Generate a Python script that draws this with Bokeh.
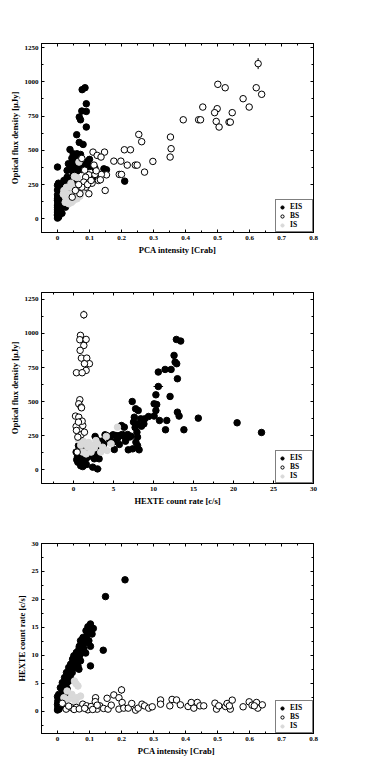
from bokeh.plotting import figure
from bokeh.layouts import column
from bokeh.models import Range1d, FixedTicker, LinearAxis, Legend, LegendItem
from bokeh.embed import file_html
from bokeh.resources import INLINE

# ---------------- Panel 1: PCA intensity vs optical flux ----------------
p1_eis_x = [0.0, 0.077, 0.086, 0.09, 0.076, 0.09, 0.068, 0.072, 0.09, 0.06, 0.068, 0.08,
            0.039, 0.049, 0.061, 0.072, 0.045, 0.053, 0.072, 0.034, 0.1, 0.1, 0.105, 0.114,
            0.117, 0.145, 0.153, 0.21,
            0.0, 0.0, 0.0, 0.0, 0.004, 0.009, 0.02, 0.03, 0.04, 0.05, 0.015, 0.025, 0.004,
            0.03, 0.046, 0.04, 0.056, 0.03, 0.02, 0.009, 0.025, 0.035, 0.002, 0.006, 0.012,
            0.001, 0.003, 0.008, 0.018, 0.01, 0.014,
            0.0, 0.0, 0.0, 0.0, 0.0, 0.0, 0.0, 0.0, 0.001, 0.002, 0.003, 0.005, 0.006,
            0.004, 0.007, 0.012, 0.016, 0.022, 0.027, 0.033, 0.038, 0.044, 0.05, 0.055,
            0.06, 0.065, 0.07, 0.075, 0.08, 0.085, 0.09, 0.095, 0.058, 0.064, 0.048,
            0.011, 0.017, 0.008, 0.013, 0.021, 0.03, 0.043, 0.052, 0.063, 0.074, 0.083]
p1_eis_y = [378, 943, 957, 840, 787, 784, 743, 723, 670, 614, 558, 543,
            506, 475, 475, 470, 443, 443, 414, 402, 434, 382, 304, 304,
            370, 365, 358, 275,
            24, 49, 85, 134, 183, 231, 231, 243, 251, 260, 158, 85, 110,
            353, 353, 390, 378, 304, 280, 207, 207, 255, 10, 60, 100,
            160, 200, 150, 120, 70, 40,
            5, 30, 65, 100, 145, 175, 210, 245, 120, 90, 260, 230, 45,
            15, 140, 250, 195, 265, 230, 270, 285, 300, 330, 320,
            345, 390, 380, 360, 405, 395, 385, 420, 430, 460, 415,
            180, 150, 110, 220, 270, 215, 290, 265, 410, 445, 410]
p1_bs_x = [0.627, 0.501, 0.524, 0.621, 0.638, 0.58, 0.454, 0.599, 0.499, 0.546, 0.491,
           0.393, 0.441, 0.447, 0.496, 0.505, 0.536, 0.54, 0.254, 0.263, 0.353, 0.355, 0.352,
           0.111, 0.147, 0.209, 0.228, 0.124, 0.136, 0.176, 0.198, 0.218, 0.243, 0.249,
           0.298, 0.272, 0.114, 0.153, 0.137, 0.128, 0.193, 0.2, 0.149, 0.098, 0.088,
           0.082, 0.089, 0.098, 0.076, 0.07, 0.117, 0.108, 0.076, 0.134, 0.046, 0.056,
           0.085, 0.094, 0.066, 0.105, 0.121]
p1_bs_y = [1133, 982, 957, 957, 909, 877, 816, 816, 804, 775, 775,
           723, 723, 723, 711, 670, 706, 706, 616, 563, 597, 512, 451,
           487, 487, 504, 504, 463, 451, 421, 421, 392, 392, 392,
           419, 341, 392, 321, 324, 280, 324, 324, 207, 321, 304,
           268, 231, 183, 231, 183, 324, 260, 441, 285, 158, 207,
           355, 250, 250, 280, 350]
p1_is_x = [0.067, 0.053, 0.02, 0.03, 0.04, 0.05, 0.061, 0.072, 0.056, 0.038, 0.025,
           0.067, 0.03, 0.046, 0.077, 0.018, 0.024, 0.035, 0.044, 0.058, 0.07, 0.062,
           0.028, 0.042, 0.052]
p1_is_y = [414, 309, 207, 183, 146, 134, 146, 183, 231, 231, 158,
           231, 134, 183, 212, 180, 120, 110, 120, 160, 165, 300,
           230, 260, 215]
# a few visible vertical error bars (x, y, half-length)
p1_err_x = [0.627, 0.501]
p1_err_y = [1133, 982]
p1_err_d = [40, 25]

# ---------------- Panel 2: HEXTE count rate vs optical flux ----------------
p2_eis_x = [12.86, 13.4, 12.57, 12.7, 12.9, 10.6, 11.45, 12.2, 12.99, 10.6, 10.3, 12.07,
            7.34, 7.76, 8.09, 10.08, 10.4, 10.3, 12.99, 13.2, 9.38, 10.08, 10.75, 11.66,
            15.6, 20.45, 23.5, 13.8, 11.5, 7.6, 7.5, 8.0, 8.4, 8.8, 8.9,
            6.76, 6.35, 6.0, 3.94, 4.94, 5.3, 5.77, 6.27, 7.18, 7.93, 8.0, 7.8, 8.0,
            7.4, 6.85, 8.2, 5.73, 5.1, 2.7, 1.87, 2.28, 3.0, 3.36,
            0.62, 0.95, 0.54, 1.16, 1.16, 2.4, 3.0, 1.78, 1.37, 0.33, 2.6, 3.0, 3.2,
            2.1, 1.7,
            0.5, 0.8, 1.2, 1.5, 2.0, 2.5, 0.7, 1.0, 1.4, 1.9, 2.3, 0.4, 0.9, 1.6,
            3.5, 4.5, 5.0, 5.5, 6.5, 7.0, 2.9, 3.8, 4.2, 6.1, 7.7, 8.5]
p2_eis_y = [956, 944, 839, 790, 778, 717, 736, 736, 668, 611, 550, 538,
            501, 448, 435, 484, 479, 435, 423, 394, 391, 394, 362, 362,
            379, 345, 274, 294, 294, 386, 350, 337, 374, 337, 374,
            259, 313, 325, 257, 257, 252, 252, 247, 247, 276, 240, 203, 178,
            154, 147, 147, 186, 149, 245, 178, 166, 191, 166,
            178, 93, 56, 56, 24, 20, 7, 93, 142, 130, 81, 122, 81,
            130, 191,
            100, 120, 110, 80, 105, 95, 150, 160, 60, 145, 135, 75, 30, 40,
            210, 225, 205, 230, 210, 240, 220, 190, 250, 260, 310, 320]
p2_bs_x = [1.29, 0.87, 0.79, 1.58, 1.29, 0.83, 0.99, 1.66, 1.99, 1.37, 1.58, 0.37, 1.08,
           0.79, 0.66, 0.95, 0.25, 0.66, 0.79, 1.16, 0.33, 0.37, 0.95, 1.37, 0.54, 0.46,
           1.0, 1.08, 0.62]
p2_bs_y = [1137, 986, 954, 956, 912, 876, 819, 819, 778, 778, 729, 712, 712,
           514, 484, 460, 394, 386, 350, 325, 318, 289, 257, 276, 240, 130,
           455, 357, 350]
p2_is_x = [5.5, 4.1, 4.7, 4.2, 3.65, 1.37, 1.78, 2.4, 1.16, 1.58, 2.8, 3.4, 0.62, 2.2,
           0.9, 1.9, 2.6, 3.0, 1.2]
p2_is_y = [313, 245, 191, 142, 166, 191, 166, 178, 130, 117, 215, 130, 220, 130,
           180, 200, 160, 190, 210]
# vertical error bars
p2_err_x = [1.29, 13.4]
p2_err_y = [1137, 944]
p2_err_d = [30, 20]
# horizontal error bars (x, y, half-length)
p2_herr_x = [10.6, 3.0, 1.78]
p2_herr_y = [611, 7, 20]
p2_herr_d = [0.6, 0.5, 0.6]

# ---------------- Panel 3: PCA intensity vs HEXTE count rate ----------------
p3_eis_x = [0.211, 0.15, 0.103, 0.095, 0.112, 0.108, 0.089, 0.08, 0.072, 0.076, 0.067,
            0.059, 0.051, 0.047, 0.041, 0.035, 0.028, 0.022, 0.015, 0.009, 0.004, 0.001,
            0.001, 0.005, 0.103, 0.143, 0.103, 0.093, 0.082, 0.061, 0.053, 0.067, 0.046,
            0.035, 0.03, 0.02, 0.009, 0.025, 0.064, 0.072, 0.088, 0.098, 0.0, 0.003, 0.012,
            0.0, 0.0, 0.002, 0.006, 0.01, 0.015, 0.02, 0.025, 0.03, 0.035, 0.04, 0.045,
            0.05, 0.055, 0.06, 0.065, 0.07, 0.075, 0.08, 0.085, 0.09, 0.097, 0.1, 0.106,
            0.018, 0.028, 0.038, 0.048, 0.058, 0.068, 0.078]
p3_eis_y = [23.5, 20.5, 15.6, 15.1, 14.8, 13.8, 14.4, 13.2, 12.6, 11.7, 11.1,
            10.5, 9.9, 9.3, 8.4, 7.8, 6.9, 6.0, 5.1, 4.2, 3.0, 1.8,
            0.66, 0.36, 11.6, 10.9, 8.1, 12.3, 11.1, 9.6, 8.7, 7.5, 6.9,
            6.0, 5.1, 3.9, 2.7, 3.0, 8.1, 9.0, 10.4, 12.6, 1.2, 2.2, 0.9,
            2.6, 0.2, 1.4, 2.0, 1.6, 3.3, 2.9, 4.4, 4.0, 5.4, 6.2, 7.4,
            7.7, 8.9, 9.1, 10.3, 10.0, 11.9, 11.5, 13.0, 13.3, 14.0, 15.2, 15.0,
            4.0, 5.8, 6.9, 8.6, 10.0, 11.6, 12.9]
p3_bs_x = [0.015, 0.027, 0.044, 0.059, 0.079, 0.091, 0.095, 0.105, 0.119, 0.118, 0.124,
           0.132, 0.144, 0.155, 0.158, 0.168, 0.176, 0.192, 0.2, 0.192, 0.202, 0.207,
           0.221, 0.232, 0.244, 0.252, 0.264, 0.272, 0.285, 0.296, 0.322, 0.322, 0.351,
           0.358, 0.372, 0.384, 0.408, 0.418, 0.426, 0.437, 0.445, 0.457, 0.492, 0.497,
           0.504, 0.525, 0.53, 0.54, 0.546, 0.537, 0.58, 0.599, 0.608, 0.622, 0.626,
           0.64, 0.615, 0.124, 0.035, 0.052, 0.068, 0.085, 0.11]
p3_bs_y = [1.4, 0.36, 0.6, 0.66, 1.25, 0.95, 0.24, 0.83, 2.4, 1.7, 0.36,
           0.95, 0.48, 2.3, 0.36, 1.07, 2.9, 2.4, 3.8, 0.36, 1.55, 0.54,
           0.54, 1.37, 0.18, 0.54, 1.25, 0.95, 0.54, 0.78, 2.0, 1.25, 0.95,
           2.1, 2.0, 1.13, 0.83, 1.55, 0.54, 1.55, 0.95, 0.95, 1.43, 0.36,
           0.95, 0.83, 1.37, 0.36, 1.97, 0.95, 0.78, 1.67, 1.07, 1.55, 0.54,
           1.13, 0.95, 1.07, 0.9, 0.3, 0.4, 0.5, 0.3]
p3_is_x = [0.053, 0.064, 0.03, 0.02, 0.041, 0.061, 0.056, 0.03, 0.072, 0.058, 0.045]
p3_is_y = [5.4, 4.5, 3.6, 2.4, 2.3, 2.4, 1.6, 2.1, 2.7, 4.9, 3.0]
p3_err_x = [0.2, 0.119, 0.176, 0.322, 0.358, 0.546]
p3_err_y = [3.8, 2.4, 2.9, 2.0, 2.1, 1.97]
p3_err_d = [0.7, 0.6, 0.6, 0.5, 0.5, 0.5]

pca_ticks = [0, 0.1, 0.2, 0.3, 0.4, 0.5, 0.6, 0.7, 0.8]
pca_labels = ["0", "0.1", "0.2", "0.3", "0.4", "0.5", "0.6", "0.7", "0.8"]
flux_ticks = [0, 250, 500, 750, 1000, 1250]
hexte_ticks = [0, 5, 10, 15, 20, 25, 30]

FONT = "Liberation Serif"


def make_panel(xr, yr, xmaj, xmin, ymaj, ymin, xlabel, ylabel, height, btop, bbot,
               xlabels=None):
    p = figure(width=386, height=height, output_backend="svg", toolbar_location=None,
               x_range=Range1d(*xr), y_range=Range1d(*yr),
               min_border_left=41, min_border_right=73, min_border_top=btop,
               min_border_bottom=bbot)
    p.grid.visible = False
    p.outline_line_color = "black"
    p.outline_line_width = 1
    p.background_fill_color = "white"
    p.border_fill_color = "white"
    for ax, ticks, minors, lab in ((p.xaxis[0], xmaj, xmin, xlabel),
                                   (p.yaxis[0], ymaj, ymin, ylabel)):
        ax.ticker = FixedTicker(ticks=ticks, minor_ticks=minors)
        ax.axis_label = lab
        ax.axis_label_text_font = FONT
        ax.axis_label_text_font_style = "bold"
        ax.axis_label_text_font_size = "8.5px"
        ax.axis_label_text_color = "black"
        ax.axis_label_standoff = 2
        ax.major_label_text_font = FONT
        ax.major_label_text_font_style = "bold"
        ax.major_label_text_font_size = "7px"
        ax.major_label_text_color = "black"
        ax.major_label_standoff = 3
        ax.major_tick_in = 3
        ax.major_tick_out = 0
        ax.minor_tick_in = 2
        ax.minor_tick_out = 0
        ax.axis_line_color = "black"
    if xlabels is not None:
        p.xaxis[0].major_label_overrides = {t: l for t, l in zip(xmaj, xlabels)}
    # mirrored ticks on top and right (no labels)
    for loc, ticks, minors in (("above", xmaj, xmin), ("right", ymaj, ymin)):
        ax = LinearAxis(ticker=FixedTicker(ticks=ticks, minor_ticks=minors))
        ax.major_label_text_color = None
        ax.major_label_text_font_size = "1px"
        ax.major_label_standoff = 0
        ax.major_tick_in = 3
        ax.major_tick_out = 0
        ax.minor_tick_in = 2
        ax.minor_tick_out = 0
        ax.axis_line_color = "black"
        p.add_layout(ax, loc)
    return p


def add_vbars(p, xs, ys, ds):
    p.segment(x0=xs, x1=xs, y0=[y - d for y, d in zip(ys, ds)],
              y1=[y + d for y, d in zip(ys, ds)], line_color="black", line_width=1)


def add_hbars(p, xs, ys, ds):
    p.segment(x0=[x - d for x, d in zip(xs, ds)], x1=[x + d for x, d in zip(xs, ds)],
              y0=ys, y1=ys, line_color="black", line_width=1)


def add_points(p, ex, ey, bx, by, ix, iy):
    r1 = p.scatter(ex, ey, size=6.5, marker="circle", fill_color="black", line_color="black")
    r3 = p.scatter(ix, iy, size=6.5, marker="circle", fill_color="#d9d9d9", line_color="#d9d9d9")
    r2 = p.scatter(bx, by, size=6.5, marker="circle", fill_color="white", line_color="black",
                   line_width=1)
    leg = Legend(items=[LegendItem(label="EIS", renderers=[r1]),
                        LegendItem(label="BS", renderers=[r2]),
                        LegendItem(label="IS", renderers=[r3])],
                 location="bottom_right")
    leg.margin = 0
    leg.padding = 2
    leg.spacing = 0
    leg.border_line_color = "black"
    leg.border_line_width = 1
    leg.label_text_font = FONT
    leg.label_text_font_style = "bold"
    leg.label_text_font_size = "7.5px"
    leg.label_text_color = "black"
    leg.label_height = 8
    leg.glyph_height = 8
    leg.glyph_width = 8
    leg.label_standoff = 4
    leg.background_fill_alpha = 1
    p.add_layout(leg, "center")


p1 = make_panel((-0.05, 0.8), (-100, 1280), pca_ticks,
                [i * 0.05 - 0.05 for i in range(19)], flux_ticks,
                [i * 125 - 125 for i in range(12)],
                "PCA intensity [Crab]", "Optical flux density [\u03bcJy]",
                258, 43, 26, pca_labels)
add_vbars(p1, p1_err_x, p1_err_y, p1_err_d)
add_points(p1, p1_eis_x, p1_eis_y, p1_bs_x, p1_bs_y, p1_is_x, p1_is_y)

p2 = make_panel((-4, 30), (-100, 1300), hexte_ticks,
                [i * 2.5 - 5 for i in range(15)], flux_ticks,
                [i * 125 - 125 for i in range(12)],
                "HEXTE count rate [c/s]", "Optical flux density [\u03bcJy]",
                250, 34, 25)
add_vbars(p2, p2_err_x, p2_err_y, p2_err_d)
add_hbars(p2, p2_herr_x, p2_herr_y, p2_herr_d)
add_points(p2, p2_eis_x, p2_eis_y, p2_bs_x, p2_bs_y, p2_is_x, p2_is_y)

p3 = make_panel((-0.05, 0.8), (-4, 30), pca_ticks,
                [i * 0.05 - 0.05 for i in range(19)], hexte_ticks,
                [i * 2.5 - 5 for i in range(15)],
                "PCA intensity  [Crab]", "HEXTE count rate [c/s]",
                260, 35, 35, pca_labels)
add_vbars(p3, p3_err_x, p3_err_y, p3_err_d)
add_points(p3, p3_eis_x, p3_eis_y, p3_bs_x, p3_bs_y, p3_is_x, p3_is_y)

layout = column(p1, p2, p3, spacing=0)
open("out.html", "w").write(file_html(layout, INLINE))
